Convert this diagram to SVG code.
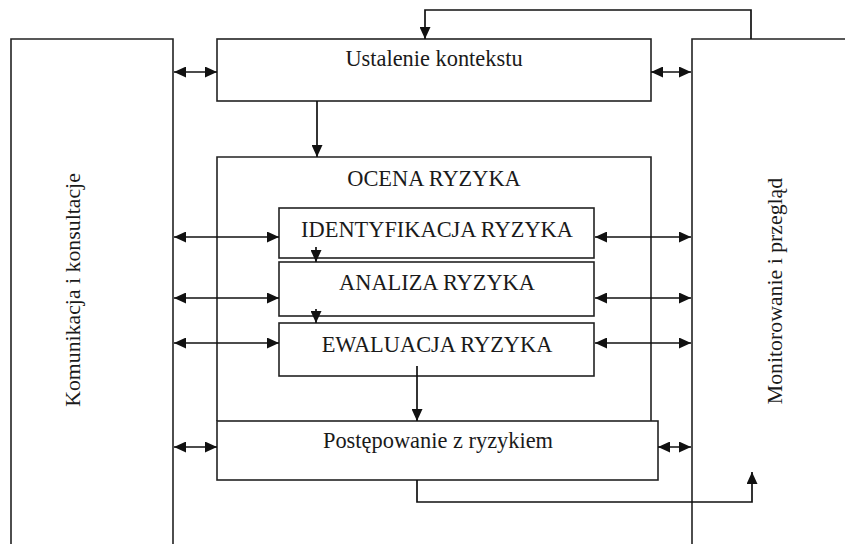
<svg xmlns="http://www.w3.org/2000/svg" width="845" height="544" viewBox="0 0 845 544">
<style>
.box{fill:none;stroke:#222;stroke-width:1.6}
.ln{fill:none;stroke:#111;stroke-width:1.7}
.t{font-family:"Liberation Serif","Times New Roman",serif;font-size:22.4px;fill:#1a1a1a;text-anchor:middle}
.v{font-size:21.8px}
</style>
<defs>
<marker id="ah" viewBox="0 0 12 11" refX="12" refY="5.5" markerWidth="12" markerHeight="11" markerUnits="userSpaceOnUse" orient="auto-start-reverse">
<path d="M0,0 L12,5.5 L0,11 z" fill="#111"/>
</marker>
</defs>
<rect width="845" height="544" fill="#fff"/>
<g id="komunikacja">
<path class="box" d="M11,544 V39 H173 V544"/>
<text class="t v" transform="translate(80,290) rotate(-90)">Komunikacja i konsultacje</text>
</g>
<g id="monitorowanie">
<path class="box" d="M692,544 V39 H845"/>
<text class="t v" transform="translate(782,291) rotate(-90)">Monitorowanie i przegląd</text>
</g>
<g id="ustalenie">
<rect class="box" x="217" y="39" width="434" height="62"/>
<text class="t" x="434" y="66">Ustalenie kontekstu</text>
</g>
<g id="ocena">
<path class="box" d="M217,421 V157 H651 V421"/>
<text class="t" x="434" y="186">OCENA RYZYKA</text>
</g>
<g id="identyfikacja">
<rect class="box" x="279" y="208" width="315" height="50"/>
<text class="t" x="437" y="237">IDENTYFIKACJA RYZYKA</text>
</g>
<g id="analiza">
<rect class="box" x="279" y="262" width="315" height="54"/>
<text class="t" x="437" y="290">ANALIZA RYZYKA</text>
</g>
<g id="ewaluacja">
<rect class="box" x="279" y="323" width="315" height="53"/>
<text class="t" x="437" y="352">EWALUACJA RYZYKA</text>
</g>
<g id="postepowanie">
<rect class="box" x="217" y="421" width="441" height="59"/>
<text class="t" x="438" y="448">Postępowanie z ryzykiem</text>
</g>
<g id="connectors">
<line class="ln" x1="174" y1="72" x2="217" y2="72" marker-start="url(#ah)" marker-end="url(#ah)"/>
<line class="ln" x1="651" y1="72" x2="691" y2="72" marker-start="url(#ah)" marker-end="url(#ah)"/>
<line class="ln" x1="174" y1="237" x2="279" y2="237" marker-start="url(#ah)" marker-end="url(#ah)"/>
<line class="ln" x1="174" y1="298" x2="279" y2="298" marker-start="url(#ah)" marker-end="url(#ah)"/>
<line class="ln" x1="174" y1="343" x2="279" y2="343" marker-start="url(#ah)" marker-end="url(#ah)"/>
<line class="ln" x1="595" y1="237" x2="691" y2="237" marker-start="url(#ah)" marker-end="url(#ah)"/>
<line class="ln" x1="595" y1="298" x2="691" y2="298" marker-start="url(#ah)" marker-end="url(#ah)"/>
<line class="ln" x1="595" y1="343" x2="691" y2="343" marker-start="url(#ah)" marker-end="url(#ah)"/>
<line class="ln" x1="174" y1="447" x2="217" y2="447" marker-start="url(#ah)" marker-end="url(#ah)"/>
<line class="ln" x1="658" y1="447" x2="691" y2="447" marker-start="url(#ah)" marker-end="url(#ah)"/>
<line class="ln" x1="317" y1="101" x2="317" y2="157" marker-end="url(#ah)"/>
<line class="ln" x1="316" y1="247" x2="316" y2="262" marker-end="url(#ah)"/>
<line class="ln" x1="316" y1="309" x2="316" y2="323" marker-end="url(#ah)"/>
<line class="ln" x1="417" y1="366" x2="417" y2="421" marker-end="url(#ah)"/>
<path class="ln" d="M751,39 V10 H425 V39" marker-end="url(#ah)"/>
<path class="ln" d="M417,480 V502 H752 V472" marker-end="url(#ah)"/>
</g>
</svg>
